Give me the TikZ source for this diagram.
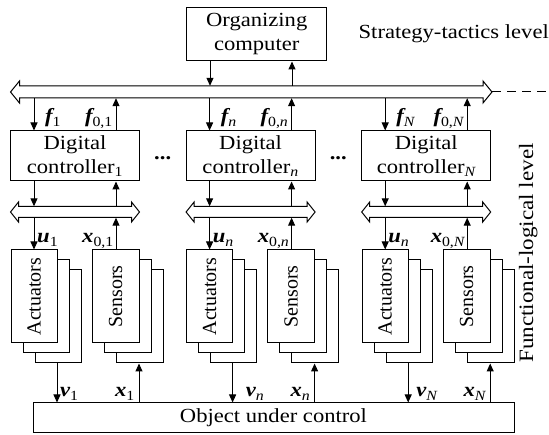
\documentclass[tikz,border=0pt]{standalone}
\usepackage{fontspec}
\setmainfont{Liberation Serif}[FakeStretch=1.13]
\newfontfamily\plainserif{Liberation Serif}
\usetikzlibrary{arrows.meta}

% bold italic vector with a normal-weight subscript
\newcommand\vsub[2]{{\bfseries\itshape #1}\textsubscript{\normalfont #2}}

% hollow double-headed bus: name, x1, x2, y-centre, body half, head half, head length
\newcommand\busat[7]{%
  \node[inner sep=0, minimum width={(#3)-(#2)}, minimum height={2*(#5)}] (#1) at ({((#2)+(#3))/2},#4) {};
  \draw[line width=1pt, fill=white, line join=miter]
    (#2,#4) -- ({(#2)+(#7)},{(#4)-(#6)}) -- ({(#2)+(#7)},{(#4)-(#5)})
    -- ({(#3)-(#7)},{(#4)-(#5)}) -- ({(#3)-(#7)},{(#4)-(#6)}) -- (#3,#4)
    -- ({(#3)-(#7)},{(#4)+(#6)}) -- ({(#3)-(#7)},{(#4)+(#5)})
    -- ({(#2)+(#7)},{(#4)+(#5)}) -- ({(#2)+(#7)},{(#4)+(#6)}) -- cycle;
}

\tikzset{
  every node/.style={font=\fontsize{20}{24}\selectfont},
  box/.style={draw, line width=1pt, inner sep=0, align=center, fill=white},
  arr/.style={-{Triangle[length=8pt,width=7pt]}, line width=1pt},
  lbl/.style={inner sep=0},
  vtext/.style={rotate=90, inner sep=0, font=\plainserif\fontsize{20}{24}\selectfont},
}

\begin{document}
\begin{tikzpicture}[x=1pt,y=-1pt]
\useasboundingbox (0,0) rectangle (549,435);

% strategy-tactics level
\node[box, minimum width=140pt, minimum height=53pt] (org) at (256.7,34.5) {Organizing\\computer};
\node[anchor=base east, inner sep=0] (stl) at (549,39) {Strategy-tactics level};
\busat{topbus}{10.5}{492}{92}{6}{11}{9}
\coordinate (dashend) at (549,92);
\draw[line width=1pt, dash pattern=on 9pt off 6pt] (topbus.east) -- (dashend);
\coordinate (od) at (210,0);
\coordinate (ou) at (292,0);
\draw[arr] (org.south -| od) -- (topbus.north -| od);
\draw[arr] (topbus.north -| ou) -- (org.south -| ou);

% object
\node[box, minimum width=481pt, minimum height=30pt] (obj) at (273.5,418) {Object under control};

% functional-logical level
\node[lbl, rotate=90, anchor=base, font=\fontsize{20.4}{24}\selectfont] (fll) at (533,253) {Functional-logical level};

\node[anchor=base, inner sep=0] (dots1) at (162.7,160) {\textbf{...}};
\node[anchor=base, inner sep=0] (dots2) at (338.3,160) {\textbf{...}};

\foreach \k/\gsub/\usub/\voff in {0/{1}/{1}/3, 1/{\itshape n}/{\itshape n}/13, 2/{\itshape N}/{\itshape n}/8}{
  \pgfmathsetmacro\dx{175.6*\k}
  \coordinate (cd\k) at (34+\dx,0);
  \coordinate (cu\k) at (116+\dx,0);
  \coordinate (cv\k) at (57+\dx,0);
  \coordinate (cx\k) at (139+\dx,0);

  % controller and its local bus
  \node[box, minimum width=129pt, minimum height=50pt] (ctl\k) at (75+\dx,156) {Digital\\controller\textsubscript{\gsub}};
  \busat{lbus\k}{10.5+\dx}{139.5+\dx}{212}{5.5}{10}{8}

  % actuator and sensor stacks
  \node[box, minimum width=46pt, minimum height=93pt] (actc\k) at (58+\dx,316.5) {};
  \node[box, minimum width=46pt, minimum height=93pt] (actb\k) at (46+\dx,306.5) {};
  \node[box, minimum width=46pt, minimum height=93pt] (act\k) at (34+\dx,296.5) {};
  \node[vtext] (actt\k) at (act\k) {Actuators};
  \node[box, minimum width=47pt, minimum height=93pt] (senc\k) at (139.5+\dx,316.5) {};
  \node[box, minimum width=47pt, minimum height=93pt] (senb\k) at (127.5+\dx,306.5) {};
  \node[box, minimum width=47pt, minimum height=93pt] (sen\k) at (115.5+\dx,296.5) {};
  \node[vtext] (sent\k) at (sen\k) {Sensors};

  % signal flow
  \draw[arr] (topbus.south -| cd\k) -- (ctl\k.north -| cd\k);
  \draw[arr] (ctl\k.north -| cu\k) -- (topbus.south -| cu\k);
  \draw[arr] (ctl\k.south -| cd\k) -- (lbus\k.north -| cd\k);
  \draw[arr] (lbus\k.north -| cu\k) -- (ctl\k.south -| cu\k);
  \draw[arr] (lbus\k.south -| cd\k) -- (act\k.north -| cd\k);
  \draw[arr] (sen\k.north -| cu\k) -- (lbus\k.south -| cu\k);
  \draw[arr] (actc\k.south -| cv\k) -- (obj.north -| cv\k);
  \draw[arr] (obj.north -| cx\k) -- (senc\k.south -| cx\k);

  % signal labels
  \node[lbl, anchor=base west] (fl\k) at (45+\dx,123) {\vsub{f}{\gsub}};
  \node[lbl, anchor=base east] (fol\k) at (113+\dx,123) {\vsub{f}{0,\gsub}};
  \node[lbl, anchor=base west] (ul\k) at (37+\dx,243) {\vsub{u}{\usub}};
  \node[lbl, anchor=base east] (xol\k) at (114+\dx,243) {\vsub{x}{0,\gsub}};
  \node[lbl, anchor=base west] (vl\k) at (57+\voff+\dx,397) {\vsub{v}{\gsub}};
  \node[lbl, anchor=base east] (xl\k) at (135+\dx,397) {\vsub{x}{\gsub}};
}
\end{tikzpicture}
\end{document}
